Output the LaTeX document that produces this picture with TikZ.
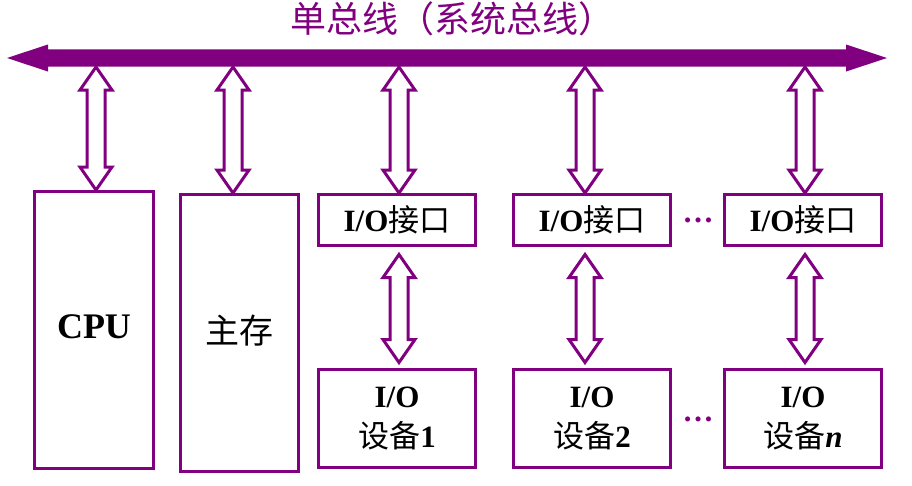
\documentclass[tikz,border=0pt]{standalone}
\usepackage{fontspec}
\setmainfont{Liberation Serif}
\newfontfamily\cjk{Noto Sans CJK SC}
\usetikzlibrary{calc}
\definecolor{buspurple}{RGB}{128,0,128}
\newcommand{\zh}[1]{{\mdseries\cjk #1}}
\newcommand{\duplex}[2]{%
\draw[hollow] let \p1=(#1), \p2=(#2) in
  (\x1,\y1) -- (\x1+16pt,\y1-23pt) -- (\x1+9pt,\y1-23pt) -- (\x1+9pt,\y2+23pt)
  -- (\x1+16pt,\y2+23pt) -- (\x1,\y2) -- (\x1-16pt,\y2+23pt) -- (\x1-9pt,\y2+23pt)
  -- (\x1-9pt,\y1-23pt) -- (\x1-16pt,\y1-23pt) -- cycle;}

\begin{document}
\begin{tikzpicture}[x=1pt,y=-1pt,
  box/.style={draw=buspurple,line width=3pt,inner sep=0pt,align=center,
    font=\bfseries\fontsize{31}{40}\selectfont},
  hollow/.style={draw=buspurple,line width=3pt,fill=white},
  dots/.style={text=buspurple,font=\bfseries\fontsize{31}{30}\selectfont}]
\useasboundingbox (0,0) rectangle (912,485);
\node[text=buspurple,font=\cjk\fontsize{36}{40}\selectfont] (title) at (452,19) {单总线（系统总线）};

% bus
\coordinate (busL) at (7,58);
\coordinate (busR) at (887,58);
\fill[buspurple] (busL) -- ++(41,-13.5) -- ++(0,4.8) -- ($(busR)+(-41,-8.7)$) -- ++(0,-4.8)
  -- (busR) -- ++(-41,13.5) -- ++(0,-4.8) -- ($(busL)+(41,8.7)$) -- ++(0,4.8) -- cycle;
\coordinate (b1) at (96,67);
\coordinate (b2) at (233,67);
\coordinate (b3) at (399,67);
\coordinate (b4) at (585,67);
\coordinate (b5) at (805,67);

\node[box,minimum width=119pt,minimum height=277pt,font=\bfseries\fontsize{36}{40}\selectfont]
  (cpu) at (94,330) {\raisebox{7pt}{CPU}};
\node[box,minimum width=118pt,minimum height=277pt,font=\fontsize{34}{40}\selectfont]
  (mem) at (239.5,333) {\raisebox{8pt}{\zh{主存}}};
\node[box,minimum width=157pt,minimum height=51pt] (if1) at (397,220) {I/O\zh{接口}};
\node[box,minimum width=157pt,minimum height=51pt] (if2) at (592,220) {I/O\zh{接口}};
\node[box,minimum width=157pt,minimum height=51pt] (if3) at (803,220) {I/O\zh{接口}};
\node[box,minimum width=157pt,minimum height=98pt] (dev1) at (397,418.5) {I/O\\\zh{设备}1};
\node[box,minimum width=157pt,minimum height=98pt] (dev2) at (592,418.5) {I/O\\\zh{设备}2};
\node[box,minimum width=157pt,minimum height=98pt] (dev3) at (803,418.5) {I/O\\\zh{设备}\textit{n}};
\node[dots] (d1) at (698,220) {\ldots};
\node[dots] (d2) at (698,419) {\ldots};

\duplex{b1}{b1 |- cpu.north}
\duplex{b2}{b2 |- mem.north}
\duplex{b3}{b3 |- if1.north}
\duplex{b4}{b4 |- if2.north}
\duplex{b5}{b5 |- if3.north}
\duplex{$(b3 |- if1.south)+(0,7.5)$}{$(b3 |- dev1.north)+(0,-5.5)$}
\duplex{$(b4 |- if2.south)+(0,7.5)$}{$(b4 |- dev2.north)+(0,-5.5)$}
\duplex{$(b5 |- if3.south)+(0,7.5)$}{$(b5 |- dev3.north)+(0,-5.5)$}
\end{tikzpicture}
\end{document}
